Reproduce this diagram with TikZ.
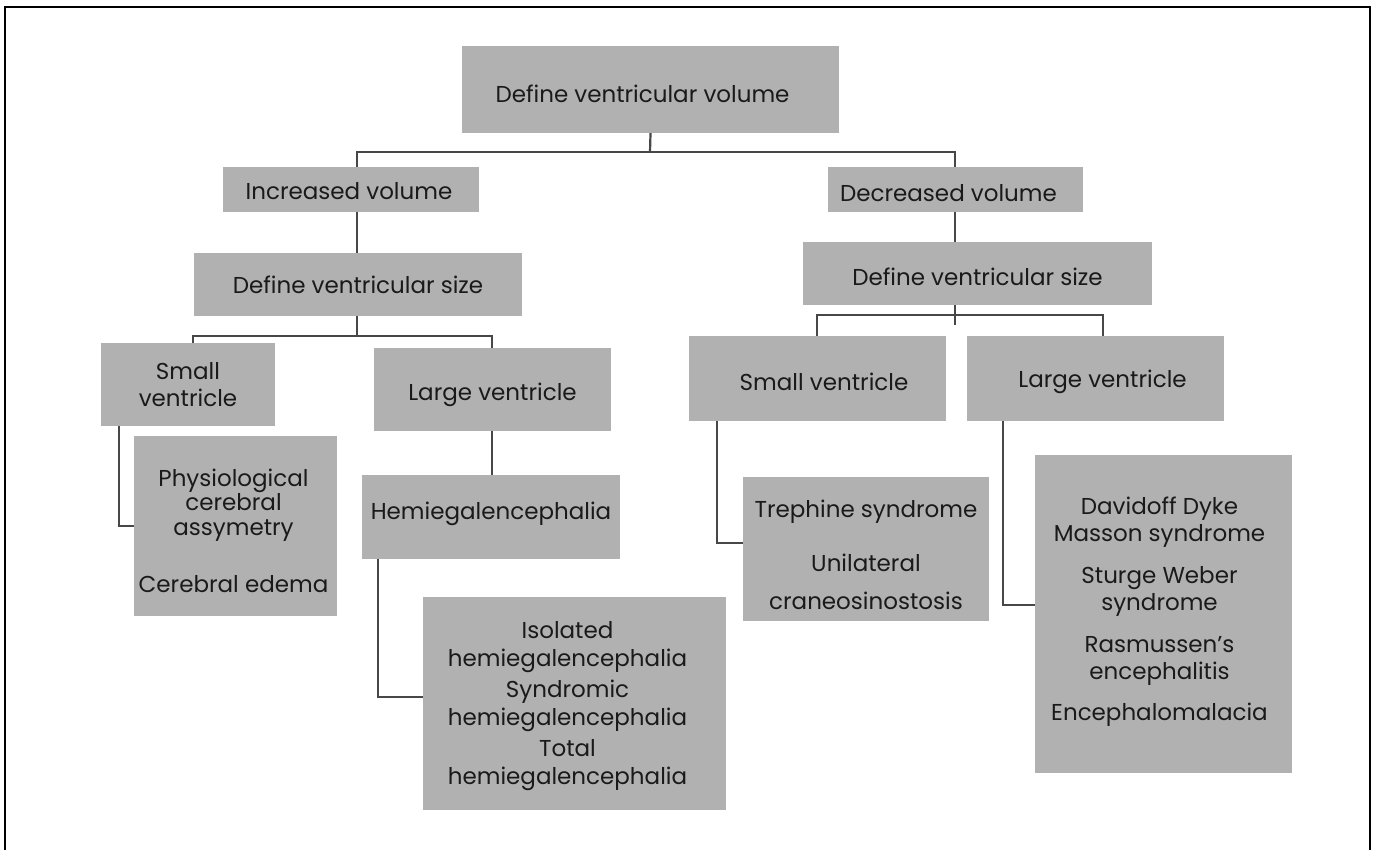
\documentclass[tikz,border=0pt]{standalone}
\usepackage{fontspec}
\setmainfont{Poppins}
\usetikzlibrary{backgrounds}
\definecolor{boxgray}{HTML}{B1B1B1}
\definecolor{linegray}{HTML}{474747}
\definecolor{txt}{HTML}{1A1A1A}
\tikzset{
  box/.style={fill=boxgray, draw=none, inner sep=0pt},
  lbl/.style={inner sep=0pt, align=center, text=txt, font=\fontsize{23}{27}\selectfont},
  conn/.style={draw=linegray, line width=2.2pt},
}
\begin{document}
\begin{tikzpicture}[x=1pt,y=-1pt]
\useasboundingbox (0,0) rectangle (1376,850);
\draw[line width=1.5pt, black] (5,7) rectangle (1370,862);

\node[box, minimum width=377pt, minimum height=87pt,
  label={[lbl,xshift=-8pt,yshift=-4pt]center:Define ventricular volume}] (b1) at (650.5,89.5) {};
\node[box, minimum width=256pt, minimum height=45pt,
  label={[lbl,xshift=-2pt,yshift=-2pt]center:Increased volume}] (inc) at (351,189.5) {};
\node[box, minimum width=255pt, minimum height=45pt,
  label={[lbl,xshift=-7pt,yshift=-4pt]center:Decreased volume}] (dec) at (955.5,189.5) {};
\node[box, minimum width=328pt, minimum height=63pt,
  label={[lbl]center:Define ventricular size}] (dsL) at (358,284.5) {};
\node[box, minimum width=349pt, minimum height=63pt,
  label={[lbl,yshift=-3pt]center:Define ventricular size}] (dsR) at (977.5,273.5) {};
\node[box, minimum width=174pt, minimum height=83pt,
  label={[lbl]center:{Small\\ventricle}}] (smL) at (188,384.5) {};
\node[box, minimum width=237pt, minimum height=83pt,
  label={[lbl,yshift=-5pt]center:Large ventricle}] (lgL) at (492.5,389.5) {};
\node[box, minimum width=203pt, minimum height=180pt,
  label={[lbl,font=\fontsize{23}{24.5}\selectfont,xshift=-2pt,yshift=-5pt]center:{Physiological\\cerebral\\assymetry\\[33pt]Cerebral edema}}] (phys) at (235.5,526) {};
\node[box, minimum width=258pt, minimum height=84pt,
  label={[lbl,yshift=3pt]center:Hemiegalencephalia}] (hem) at (491,517) {};
\node[box, minimum width=303pt, minimum height=213pt,
  label={[lbl,font=\fontsize{23}{28}\selectfont,xshift=-7pt,yshift=-2.5pt]center:{Isolated\\hemiegalencephalia\\[3pt]Syndromic\\hemiegalencephalia\\[3pt]Total\\hemiegalencephalia}}] (iso) at (574.5,703.5) {};
\node[box, minimum width=257pt, minimum height=85pt,
  label={[lbl,xshift=6.5pt,yshift=-3pt]center:Small ventricle}] (smR) at (817.5,378.5) {};
\node[box, minimum width=257pt, minimum height=85pt,
  label={[lbl,xshift=7pt,yshift=-3pt]center:Large ventricle}] (lgR) at (1095.5,378.5) {};
\node[box, minimum width=246pt, minimum height=144pt,
  label={[lbl,yshift=-6pt]center:{Trephine syndrome\\[27pt]Unilateral\\[11pt]craneosinostosis}}] (tre) at (866,549) {};
\node[box, minimum width=257pt, minimum height=318pt,
  label={[lbl,xshift=-4pt,yshift=2pt]center:{Davidoff Dyke\\Masson syndrome\\[15pt]Sturge Weber\\syndrome\\[15pt]Rasmussen’s\\encephalitis\\[14pt]Encephalomalacia}}] (dav) at (1163.5,614) {};

\coordinate (j1) at (650,152);
\coordinate (j2) at (357,336);
\coordinate (j3) at (955,315);
\coordinate (j3t) at (955,325);

\begin{scope}[on background layer]
\draw[conn] (b1.south) -- (j1);
\draw[conn] (j1) -| (dsL.north -| 357,0);
\draw[conn] (j1) -| (dsR.north -| 955,0);
\draw[conn] (dsL.south -| j2) -- (j2);
\draw[conn] (smL.north -| 193,0) |- (j2) -| (lgL.north -| 492,0);
\draw[conn] (dsR.south -| j3) -- (j3t);
\draw[conn] (smR.north -| 817,0) |- (j3) -| (lgR.north -| 1103,0);
\draw[conn] (smL.south -| 119,0) |- (phys.west);
\draw[conn] (lgL.south -| 492,0) -- (hem.north -| 492,0);
\draw[conn] (hem.south -| 378,0) |- (iso.west |- 0,697);
\draw[conn] (smR.south -| 717,0) |- (tre.west |- 0,543);
\draw[conn] (lgR.south -| 1003,0) |- (dav.west |- 0,605);
\end{scope}
\end{tikzpicture}
\end{document}
